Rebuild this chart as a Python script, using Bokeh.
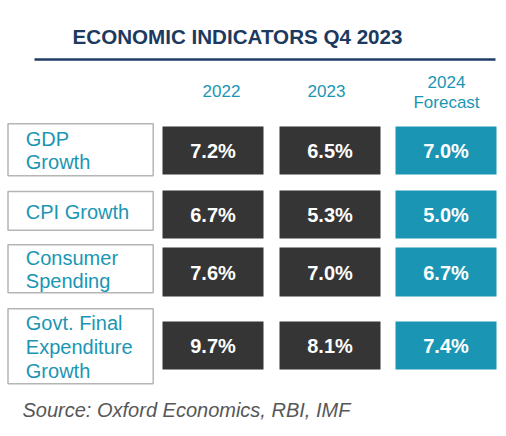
from bokeh.plotting import figure
from bokeh.models import Range1d
from bokeh.embed import file_html
from bokeh.resources import INLINE
from bokeh.core.properties import value

# ---------------- data ----------------
title = "ECONOMIC INDICATORS Q4 2023"
columns = ["2022", "2023", "2024\nForecast"]
indicators = ["GDP\nGrowth", "CPI Growth", "Consumer\nSpending",
              "Govt. Final\nExpenditure\nGrowth"]
v2022 = ["7.2%", "6.7%", "7.6%", "9.7%"]
v2023 = ["6.5%", "5.3%", "7.0%", "8.1%"]
v2024 = ["7.0%", "5.0%", "6.7%", "7.4%"]
source_note = "Source: Oxford Economics, RBI, IMF"

# ---------------- layout / style ----------------
FONT = "Liberation Sans"
NAVY = "#1c3a5f"
TEAL = "#1a96b4"
DARK = "#353535"
GREY_BORDER = "#b5b5b5"

W, H = 506, 436
K = 0.4  # baseline correction factor (fraction of font size)

col_lr = [(162, 263), (279, 380), (395, 496)]
col_fill = [DARK, DARK, TEAL]
head_cx = [221, 326, 446]
head_last_base = [97.3, 97.3, 108.3]
head_pitch = 20.5

row_tb = [(126, 174), (190, 238), (247, 296), (321, 369)]
label_tb = [(123.3, 175.3), (191, 229.7), (244.3, 292.3), (308.3, 383.3)]
label_lr = (7.5, 152.7)
label_x = 25.3
label_pitch = 23.7

p = figure(width=W, height=H,
           x_range=Range1d(0, W), y_range=Range1d(H, 0),
           output_backend="svg", toolbar_location=None,
           x_axis_type=None, y_axis_type=None, min_border=0)
p.outline_line_color = None
p.grid.visible = False
p.background_fill_color = "white"
p.border_fill_color = "white"

# title + rule
p.text(x=[237], y=[44.3 - K * 20.6], text=[title], text_font=value(FONT),
       text_font_size="20.6px", text_font_style="bold", text_color=NAVY,
       text_align="center", text_baseline="alphabetic")
p.segment(x0=[34], y0=[59], x1=[495], y1=[59], line_color="#1f3c64", line_width=2.5)

# column headers
hx, hy, ht = [], [], []
for i, c in enumerate(columns):
    lines = c.split("\n")
    n = len(lines)
    for j, ln in enumerate(lines):
        hx.append(head_cx[i])
        hy.append(head_last_base[i] - (n - 1 - j) * head_pitch - K * 17)
        ht.append(ln)
p.text(x=hx, y=hy, text=ht, text_font=value(FONT), text_font_size="17px",
       text_color=TEAL, text_align="center", text_baseline="alphabetic")

# value cells
values = [v2022, v2023, v2024]
ql, qr, qt, qb, qc = [], [], [], [], []
tx, ty, tt = [], [], []
for ci, vals in enumerate(values):
    for ri, v in enumerate(vals):
        t, b = row_tb[ri]
        l, r = col_lr[ci]
        ql.append(l); qr.append(r); qt.append(t); qb.append(b); qc.append(col_fill[ci])
        tx.append((l + r) / 2)
        ty.append((t + b) / 2 + 8.6 - K * 20)
        tt.append(v)
p.quad(left=ql, right=qr, top=qt, bottom=qb, fill_color=qc, line_color=None)
p.text(x=tx, y=ty, text=tt, text_font=value(FONT), text_font_size="20px",
       text_font_style="bold", text_color="white", text_align="center",
       text_baseline="alphabetic")

# indicator label boxes
lt = [t for t, b in label_tb]
lb = [b for t, b in label_tb]
p.quad(left=[label_lr[0]] * 4, right=[label_lr[1]] * 4, top=lt, bottom=lb,
       fill_color="white", line_color=GREY_BORDER, line_width=1.5)

lx, ly, ltxt = [], [], []
for ri, name in enumerate(indicators):
    lines = name.split("\n")
    n = len(lines)
    t, b = label_tb[ri]
    cy = (t + b) / 2
    first = cy - (n - 1) * label_pitch / 2 + 7.2 + 1.6 - K * 20
    for j, ln in enumerate(lines):
        lx.append(label_x)
        ly.append(first + j * label_pitch)
        ltxt.append(ln)
p.text(x=lx, y=ly, text=ltxt, text_font=value(FONT), text_font_size="20px",
       text_color=TEAL, text_align="left", text_baseline="alphabetic")

# source
p.text(x=[22], y=[417.3 - K * 20], text=[source_note], text_font=value(FONT),
       text_font_size="20px", text_font_style="italic", text_color="#575757",
       text_align="left", text_baseline="alphabetic")

open("out.html", "w").write(file_html(p, INLINE))
